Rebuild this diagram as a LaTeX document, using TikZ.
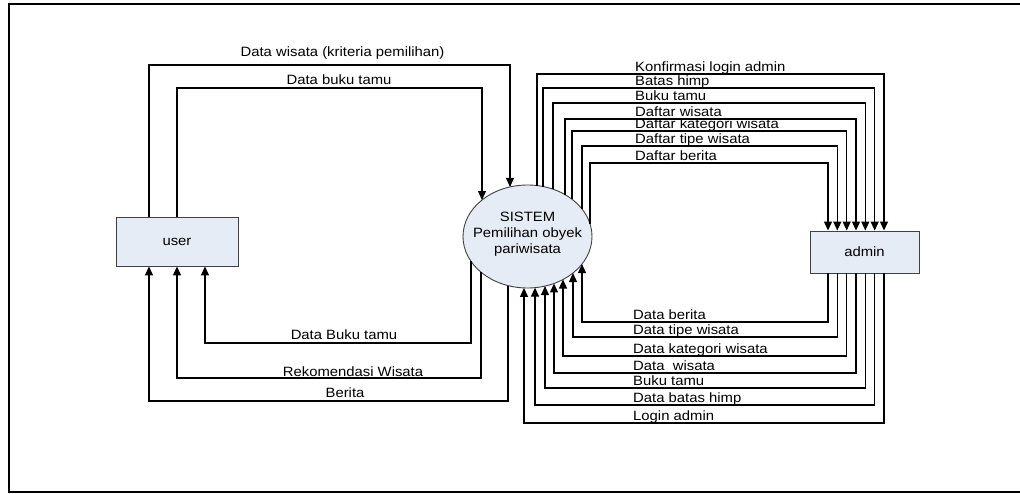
\documentclass[tikz,border=0pt]{standalone}
\usepackage{fontspec}
\setmainfont{Liberation Sans}[FakeStretch=1.1]
\usetikzlibrary{shapes.geometric,arrows.meta}
\definecolor{boxblue}{HTML}{E6ECF6}
\definecolor{edgegray}{HTML}{404040}
\pgfmathdeclarefunction{etop}{1}{\pgfmathparse{236.5-51.5*sqrt(1-((#1-527.5)/64.5)^2)}}
\pgfmathdeclarefunction{ebot}{1}{\pgfmathparse{236.5+51.5*sqrt(1-((#1-527.5)/64.5)^2)}}
\tikzset{
  entity/.style={draw=edgegray, fill=boxblue, line width=0.9pt, inner sep=0pt},
  proc/.style={ellipse, draw=edgegray, fill=boxblue, line width=0.9pt, inner sep=0pt,
    minimum width=129pt, minimum height=103pt},
  flow/.style={draw=black, line width=1.2pt, -{Triangle[length=9pt,width=8pt]}},
  lbl/.style={inner sep=0pt, text=black},
}
\begin{document}
\begin{tikzpicture}[x=1pt,y=-1pt, every node/.style={font=\fontsize{13.5}{16}\selectfont}]
\useasboundingbox (0,0) rectangle (1020,493);
% frame
\draw[line width=2pt] (1030,3.5) -- (9,3.5) -- (9,491.5) -- (1030,491.5);

% nodes
\node[entity, minimum width=122pt, minimum height=49pt] (user) at (177,241.5) {user};
\node[entity, minimum width=109pt, minimum height=42pt] (admin) at (864.5,252) {admin};
\node[proc] (sys) at (527.5,236.5) {};
\node[lbl, align=center] (systext) at ([yshift=2pt]sys.center) {SISTEM\\Pemilihan obyek\\pariwisata};

% user -> sistem
\draw[flow] (user.north -| 149,0) |- (510,65) -- (510,{etop(510)});
\draw[flow] (user.north -| 177,0) |- (482,88) -- (482,{etop(482)});
\node[lbl, anchor=base] (l1) at (342.5,56) {Data wisata (kriteria pemilihan)};
\node[lbl, anchor=base] (l2) at (339,84) {Data buku tamu};

% sistem -> user
\draw[flow] (471,{ebot(471)}) |- (205,343) -- (user.south -| 205,0);
\draw[flow] (481,{ebot(481)}) |- (177,378) -- (user.south -| 177,0);
\draw[flow] (508,{ebot(508)}) |- (149,401) -- (user.south -| 149,0);
\node[lbl, anchor=base] (l3) at (344,339) {Data Buku tamu};
\node[lbl, anchor=base] (l4) at (353,376) {Rekomendasi Wisata};
\node[lbl, anchor=base] (l5) at (345,397.5) {Berita};

% sistem -> admin
\foreach \ex/\ly/\ax/\lab [count=\i] in {
  537/74/884/Konfirmasi login admin,
  543/88/874.7/Batas himp,
  553/103/865.3/Buku tamu,
  565/119/856/Daftar wisata,
  572/131/846.7/Daftar kategori wisata,
  582/146/837.3/Daftar tipe wisata,
  590/163/828/Daftar berita}{
  \draw[flow] (\ex,{etop(\ex)}) |- (\ax,\ly) -- (admin.north -| \ax,0);
  \node[lbl, anchor=base west] (t\i) at (635,\ly-3) {\lab};
}

% admin -> sistem
\foreach \ex/\ly/\ax/\lab [count=\i] in {
  582/322/828/Data berita,
  573/337/837.3/Data tipe wisata,
  563/356/846.7/Data kategori wisata,
  554/373/856/Data~~wisata,
  545/388/865.3/Buku tamu,
  535/405/874.7/Data batas himp,
  524/423/884/Login admin}{
  \draw[flow] (admin.south -| \ax,0) |- (\ex,\ly) -- (\ex,{ebot(\ex)});
  \node[lbl, anchor=base west] (b\i) at (633,\ly-2.5) {\lab};
}
\end{tikzpicture}
\end{document}
